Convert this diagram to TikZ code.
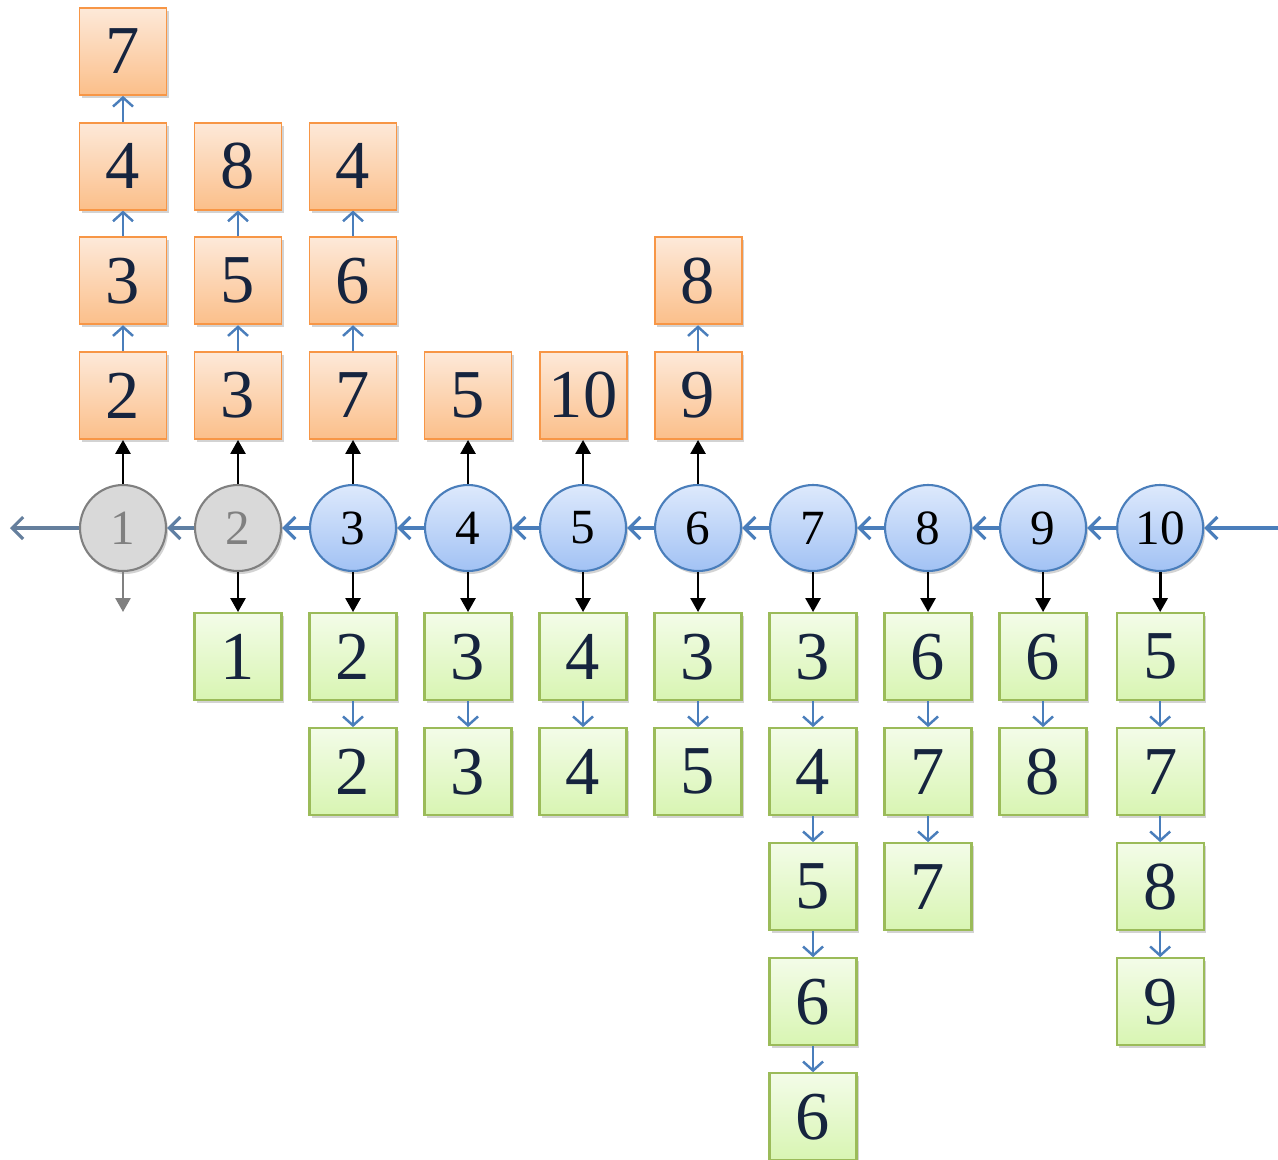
\documentclass[tikz,border=0pt]{standalone}
\usepackage{fontspec}
\setmainfont{Liberation Serif}
\usetikzlibrary{arrows.meta, positioning, shadows}

\definecolor{linkblue}{HTML}{4A7EBB}
\definecolor{orangeedge}{HTML}{F79646}
\definecolor{orangetop}{HTML}{FDE9D9}
\definecolor{orangebot}{HTML}{FBBF8A}
\definecolor{greenedge}{HTML}{9BBB59}
\definecolor{greentop}{HTML}{F3FCE8}
\definecolor{greenbot}{HTML}{D8F5B2}
\definecolor{bluetop}{HTML}{DDE9FC}
\definecolor{bluebot}{HTML}{A2C2F4}
\definecolor{numink}{HTML}{16243E}

\tikzset{
  soft shadow/.style={drop shadow={shadow xshift=0.04cm, shadow yshift=-0.06cm, opacity=0.35}},
  vert/.style={circle, draw=linkblue, line width=1.2pt, top color=bluetop,
               bottom color=bluebot, minimum size=1.72cm, inner sep=0pt,
               font=\fontsize{28}{29}\selectfont, soft shadow},
  dead/.style={vert, draw=gray, top color=gray!30, bottom color=gray!30, text=gray},
  obox/.style={rectangle, draw=orangeedge, line width=1.1pt, top color=orangetop,
               bottom color=orangebot, minimum size=1.74cm, inner sep=0pt,
               text=numink, font=\fontsize{39}{40}\selectfont, soft shadow},
  gbox/.style={obox, draw=greenedge, line width=1.3pt, top color=greentop,
               bottom color=greenbot},
  chain/.style={-{Straight Barb[length=0.22cm,width=0.44cm]}, draw=linkblue, line width=1.8pt},
  nxt/.style={-{Straight Barb[length=0.18cm,width=0.4cm]}, draw=linkblue, line width=1.4pt},
  own/.style={-{Triangle[length=0.28cm,width=0.3cm]}, line width=1.5pt},
}

\begin{document}
\begin{tikzpicture}[node distance=0.515cm]
  \useasboundingbox (0,0) rectangle (25.56,-23.2);

  % vertices
  \node[dead] (c1) at (2.46,-10.56) {1};
  \node[dead, right=0.538cm of c1] (c2) {2};
  \node[vert, right=0.538cm of c2] (c3) {3};
  \node[vert, right=0.538cm of c3] (c4) {4};
  \node[vert, right=0.538cm of c4] (c5) {5};
  \node[vert, right=0.538cm of c5] (c6) {6};
  \node[vert, right=0.538cm of c6] (c7) {7};
  \node[vert, right=0.538cm of c7] (c8) {8};
  \node[vert, right=0.538cm of c8] (c9) {9};
  \node[vert, right=0.58cm of c9] (c10) {10};

  \coordinate (exit) at (0.2,-10.56);
  \coordinate (entry) at (25.56,-10.56);
  \coordinate (sink) at (2.46,-12.24);

  % upper lists
  \node[obox, above=0.88cm of c1] (o1a) {2};
  \node[obox, above=of o1a] (o1b) {3};
  \node[obox, above=of o1b] (o1c) {4};
  \node[obox, above=of o1c] (o1d) {7};
  \node[obox, above=0.88cm of c2] (o2a) {3};
  \node[obox, above=of o2a] (o2b) {5};
  \node[obox, above=of o2b] (o2c) {8};
  \node[obox, above=0.88cm of c3] (o3a) {7};
  \node[obox, above=of o3a] (o3b) {6};
  \node[obox, above=of o3b] (o3c) {4};
  \node[obox, above=0.88cm of c4] (o4a) {5};
  \node[obox, above=0.88cm of c5] (o5a) {10};
  \node[obox, above=0.88cm of c6] (o6a) {9};
  \node[obox, above=of o6a] (o6b) {8};

  % lower lists
  \node[gbox, below=0.8cm of c2] (g2a) {1};
  \node[gbox, below=0.8cm of c3] (g3a) {2};
  \node[gbox, below=of g3a] (g3b) {2};
  \node[gbox, below=0.8cm of c4] (g4a) {3};
  \node[gbox, below=of g4a] (g4b) {3};
  \node[gbox, below=0.8cm of c5] (g5a) {4};
  \node[gbox, below=of g5a] (g5b) {4};
  \node[gbox, below=0.8cm of c6] (g6a) {3};
  \node[gbox, below=of g6a] (g6b) {5};
  \node[gbox, below=0.8cm of c7] (g7a) {3};
  \node[gbox, below=of g7a] (g7b) {4};
  \node[gbox, below=of g7b] (g7c) {5};
  \node[gbox, below=of g7c] (g7d) {6};
  \node[gbox, below=of g7d] (g7e) {6};
  \node[gbox, below=0.8cm of c8] (g8a) {6};
  \node[gbox, below=of g8a] (g8b) {7};
  \node[gbox, below=of g8b] (g8c) {7};
  \node[gbox, below=0.8cm of c9] (g9a) {6};
  \node[gbox, below=of g9a] (g9b) {8};
  \node[gbox, below=0.8cm of c10] (g10a) {5};
  \node[gbox, below=of g10a] (g10b) {7};
  \node[gbox, below=of g10b] (g10c) {8};
  \node[gbox, below=of g10c] (g10d) {9};

  % main chain
  \draw[chain] (entry) -- (c10);
  \draw[chain] (c10) -- (c9);
  \draw[chain] (c9) -- (c8);
  \draw[chain] (c8) -- (c7);
  \draw[chain] (c7) -- (c6);
  \draw[chain] (c6) -- (c5);
  \draw[chain] (c5) -- (c4);
  \draw[chain] (c4) -- (c3);
  \draw[chain] (c3) -- (c2);
  \draw[chain, draw=linkblue!60!gray] (c2) -- (c1);
  \draw[chain, draw=linkblue!50!gray] (c1) -- (exit);

  % vertex to list heads
  \draw[own] (c1) -- (o1a);
  \draw[own, draw=gray, -{Triangle[length=0.28cm,width=0.3cm]}] (c1) -- (sink);
  \draw[own] (c2) -- (o2a);
  \draw[own] (c2) -- (g2a);
  \draw[own] (c3) -- (o3a);
  \draw[own] (c3) -- (g3a);
  \draw[own] (c4) -- (o4a);
  \draw[own] (c4) -- (g4a);
  \draw[own] (c5) -- (o5a);
  \draw[own] (c5) -- (g5a);
  \draw[own] (c6) -- (o6a);
  \draw[own] (c6) -- (g6a);
  \draw[own] (c7) -- (g7a);
  \draw[own] (c8) -- (g8a);
  \draw[own] (c9) -- (g9a);
  \draw[own] (c10) -- (g10a);

  % list links
  \draw[nxt] (o1a) -- (o1b);
  \draw[nxt] (o1b) -- (o1c);
  \draw[nxt] (o1c) -- (o1d);
  \draw[nxt] (o2a) -- (o2b);
  \draw[nxt] (o2b) -- (o2c);
  \draw[nxt] (o3a) -- (o3b);
  \draw[nxt] (o3b) -- (o3c);
  \draw[nxt] (o6a) -- (o6b);
  \draw[nxt] (g3a) -- (g3b);
  \draw[nxt] (g4a) -- (g4b);
  \draw[nxt] (g5a) -- (g5b);
  \draw[nxt] (g6a) -- (g6b);
  \draw[nxt] (g7a) -- (g7b);
  \draw[nxt] (g7b) -- (g7c);
  \draw[nxt] (g7c) -- (g7d);
  \draw[nxt] (g7d) -- (g7e);
  \draw[nxt] (g8a) -- (g8b);
  \draw[nxt] (g8b) -- (g8c);
  \draw[nxt] (g9a) -- (g9b);
  \draw[nxt] (g10a) -- (g10b);
  \draw[nxt] (g10b) -- (g10c);
  \draw[nxt] (g10c) -- (g10d);
\end{tikzpicture}
\end{document}
